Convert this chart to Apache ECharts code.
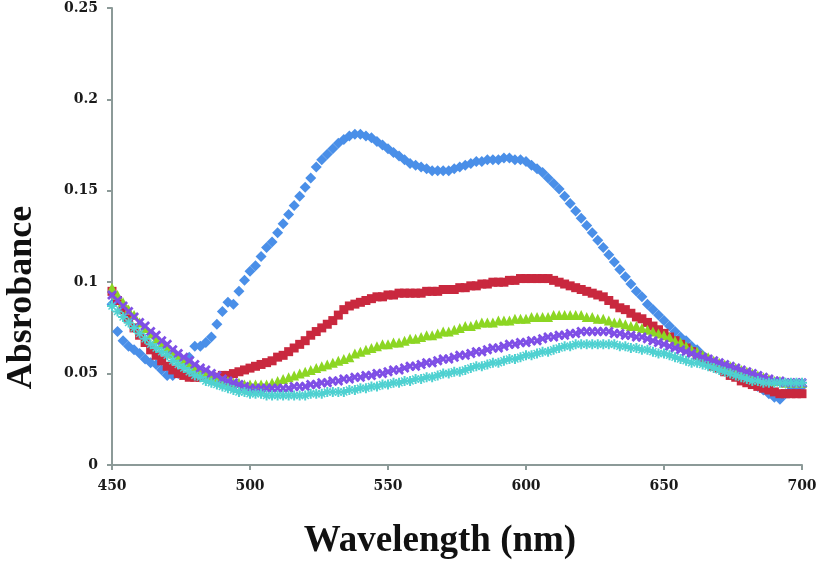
<!DOCTYPE html>
<html>
<head>
<meta charset="utf-8">
<script src="https://cdn.jsdelivr.net/npm/echarts@6/dist/echarts.min.js"></script>
<style>html,body{margin:0;padding:0;background:#fff}#c{width:817px;height:572px}</style>
</head>
<body>
<div id="c"></div>
<script>
var wavelength = [450,452,454,456,458,460,462,464,466,468,470,472,474,476,478,480,482,484,486,488,490,492,494,496,498,500,502,504,506,508,510,512,514,516,518,520,522,524,526,528,530,532,534,536,538,540,542,544,546,548,550,552,554,556,558,560,562,564,566,568,570,572,574,576,578,580,582,584,586,588,590,592,594,596,598,600,602,604,606,608,610,612,614,616,618,620,622,624,626,628,630,632,634,636,638,640,642,644,646,648,650,652,654,656,658,660,662,664,666,668,670,672,674,676,678,680,682,684,686,688,690,692,694,696,698,700];

var seriesBlue = [0.088,0.073,0.068,0.065,0.063,0.061,0.058,0.056,0.055,0.052,0.049,0.049,0.050,0.055,0.059,0.065,0.065,0.067,0.070,0.077,0.084,0.089,0.088,0.095,0.101,0.106,0.109,0.114,0.119,0.122,0.127,0.132,0.137,0.142,0.147,0.152,0.157,0.163,0.167,0.170,0.173,0.176,0.178,0.180,0.181,0.181,0.180,0.179,0.177,0.175,0.173,0.171,0.169,0.167,0.165,0.164,0.163,0.162,0.161,0.161,0.161,0.161,0.162,0.163,0.164,0.165,0.166,0.166,0.167,0.167,0.167,0.168,0.168,0.167,0.167,0.166,0.164,0.162,0.160,0.157,0.154,0.151,0.147,0.143,0.139,0.135,0.131,0.127,0.123,0.119,0.115,0.111,0.107,0.103,0.099,0.095,0.092,0.088,0.085,0.082,0.079,0.076,0.073,0.070,0.068,0.065,0.063,0.060,0.058,0.056,0.054,0.052,0.051,0.049,0.048,0.046,0.045,0.043,0.041,0.039,0.037,0.036,0.039,0.041,0.042,0.043];

var seriesRed = [0.095,0.090,0.085,0.080,0.075,0.071,0.067,0.063,0.060,0.057,0.054,0.052,0.050,0.049,0.048,0.048,0.048,0.048,0.048,0.048,0.049,0.049,0.050,0.051,0.052,0.053,0.054,0.055,0.056,0.057,0.059,0.060,0.062,0.064,0.066,0.068,0.071,0.073,0.075,0.077,0.079,0.082,0.085,0.087,0.088,0.089,0.090,0.091,0.092,0.092,0.093,0.093,0.094,0.094,0.094,0.094,0.094,0.095,0.095,0.095,0.096,0.096,0.096,0.097,0.097,0.098,0.098,0.099,0.099,0.100,0.100,0.100,0.101,0.101,0.102,0.102,0.102,0.102,0.102,0.102,0.101,0.100,0.099,0.098,0.097,0.096,0.095,0.094,0.093,0.092,0.090,0.088,0.086,0.085,0.083,0.081,0.080,0.078,0.076,0.074,0.072,0.070,0.068,0.066,0.064,0.062,0.060,0.058,0.056,0.054,0.053,0.051,0.049,0.048,0.046,0.045,0.044,0.043,0.042,0.041,0.040,0.039,0.039,0.039,0.039,0.039];

var seriesGreen = [0.097,0.093,0.089,0.085,0.082,0.078,0.075,0.072,0.069,0.066,0.064,0.061,0.059,0.057,0.055,0.053,0.051,0.050,0.048,0.047,0.046,0.046,0.045,0.045,0.044,0.044,0.044,0.044,0.044,0.045,0.046,0.047,0.048,0.049,0.050,0.051,0.052,0.053,0.054,0.055,0.056,0.057,0.058,0.059,0.061,0.062,0.063,0.064,0.065,0.066,0.066,0.067,0.067,0.068,0.069,0.069,0.070,0.071,0.071,0.072,0.073,0.073,0.074,0.075,0.076,0.076,0.077,0.078,0.078,0.078,0.079,0.079,0.079,0.080,0.080,0.080,0.081,0.081,0.081,0.081,0.082,0.082,0.082,0.082,0.082,0.082,0.081,0.081,0.080,0.080,0.079,0.078,0.078,0.077,0.076,0.076,0.075,0.074,0.073,0.072,0.071,0.070,0.068,0.067,0.065,0.063,0.062,0.060,0.059,0.057,0.056,0.055,0.054,0.053,0.052,0.051,0.050,0.049,0.048,0.047,0.046,0.046,0.045,0.045,0.045,0.045];

var seriesPurple = [0.093,0.090,0.087,0.084,0.081,0.078,0.076,0.073,0.071,0.068,0.066,0.063,0.061,0.059,0.057,0.055,0.053,0.052,0.050,0.049,0.047,0.046,0.045,0.044,0.043,0.042,0.042,0.042,0.042,0.042,0.042,0.042,0.042,0.043,0.043,0.043,0.044,0.044,0.045,0.045,0.046,0.046,0.047,0.047,0.048,0.048,0.049,0.049,0.050,0.050,0.051,0.052,0.052,0.053,0.054,0.054,0.055,0.056,0.056,0.057,0.058,0.058,0.059,0.060,0.060,0.061,0.062,0.062,0.063,0.064,0.064,0.065,0.066,0.066,0.067,0.067,0.068,0.068,0.069,0.070,0.070,0.071,0.071,0.072,0.072,0.073,0.073,0.073,0.073,0.073,0.073,0.072,0.072,0.071,0.071,0.070,0.070,0.069,0.068,0.067,0.066,0.065,0.064,0.063,0.062,0.061,0.060,0.059,0.058,0.057,0.056,0.055,0.054,0.053,0.052,0.051,0.050,0.049,0.048,0.047,0.046,0.046,0.045,0.045,0.045,0.045];

var seriesTeal = [0.087,0.084,0.081,0.078,0.075,0.072,0.069,0.066,0.064,0.062,0.060,0.057,0.055,0.053,0.051,0.049,0.048,0.046,0.045,0.044,0.043,0.042,0.041,0.040,0.040,0.039,0.039,0.039,0.038,0.038,0.038,0.038,0.038,0.038,0.038,0.038,0.039,0.039,0.039,0.040,0.040,0.040,0.040,0.041,0.041,0.042,0.042,0.043,0.043,0.044,0.044,0.045,0.045,0.046,0.046,0.047,0.047,0.048,0.048,0.049,0.050,0.050,0.051,0.051,0.052,0.053,0.054,0.054,0.055,0.056,0.056,0.057,0.058,0.058,0.059,0.060,0.060,0.061,0.062,0.062,0.063,0.064,0.065,0.065,0.066,0.066,0.066,0.066,0.066,0.066,0.066,0.066,0.065,0.065,0.064,0.064,0.063,0.063,0.062,0.061,0.061,0.060,0.059,0.058,0.057,0.056,0.056,0.055,0.054,0.053,0.052,0.051,0.050,0.049,0.048,0.047,0.046,0.046,0.045,0.045,0.045,0.045,0.045,0.045,0.045,0.045];

var xTicks = [450, 500, 550, 600, 650, 700];
var yTicks = [0, 0.05, 0.1, 0.15, 0.2, 0.25];

function pairs(ys) {
  var out = [];
  for (var i = 0; i < wavelength.length; i++) out.push([wavelength[i], ys[i]]);
  return out;
}

var axisCol = '#8c9a98';
var tickFont = {fontFamily: 'DejaVu Serif', fontWeight: 'bold', fontSize: 14, color: '#1a1a1a'};
var crossPath = 'path://M0,2 L2,0 L5,3 L8,0 L10,2 L7,5 L10,8 L8,10 L5,7 L2,10 L0,8 L3,5 Z';
var starPath = 'path://M4,0 H6 V3 L8,1 L9,2 L7,4 H10 V6 H7 L9,8 L8,9 L6,7 V10 H4 V7 L2,9 L1,8 L3,6 H0 V4 H3 L1,2 L2,1 L4,3 Z';

var chart = echarts.init(document.getElementById('c'), null, {renderer: 'canvas'});
chart.setOption({
  animation: false,
  backgroundColor: '#ffffff',
  grid: {left: 112, right: 15, top: 8, bottom: 107, containLabel: false, outerBoundsMode: 'none'},
  xAxis: {
    type: 'value', min: xTicks[0], max: xTicks[xTicks.length - 1], interval: 50,
    name: 'Wavelength (nm)', nameLocation: 'middle', nameGap: 58,
    nameTextStyle: {fontFamily: 'Liberation Serif', fontWeight: 'bold', fontSize: 37, color: '#111', padding: [0, 34, 0, 0]},
    axisLine: {show: true, lineStyle: {color: axisCol, width: 2}},
    axisTick: {show: true, inside: false, length: 5, lineStyle: {color: axisCol, width: 2}},
    axisLabel: Object.assign({margin: 14}, tickFont),
    splitLine: {show: false}
  },
  yAxis: {
    type: 'value', min: yTicks[0], max: yTicks[yTicks.length - 1], interval: 0.05,
    name: 'Absrobance', nameLocation: 'middle', nameGap: 72, nameRotate: 90,
    nameTextStyle: {fontFamily: 'Liberation Serif', fontWeight: 'bold', fontSize: 36, color: '#111', padding: [0, 122, 0, 0]},
    axisLine: {show: true, lineStyle: {color: axisCol, width: 2}},
    axisTick: {show: true, inside: false, length: 5, lineStyle: {color: axisCol, width: 2}},
    axisLabel: Object.assign({margin: 14}, tickFont),
    splitLine: {show: false}
  },
  series: [
    {type: 'scatter', data: pairs(seriesBlue), symbol: 'diamond', symbolSize: 11, itemStyle: {color: '#4a8fe8', opacity: 1}},
    {type: 'scatter', data: pairs(seriesRed), symbol: 'rect', symbolSize: 9, itemStyle: {color: '#c9283e', opacity: 1}},
    {type: 'scatter', data: pairs(seriesGreen), symbol: 'triangle', symbolSize: 10, itemStyle: {color: '#8cd623', opacity: 1}},
    {type: 'scatter', data: pairs(seriesPurple), symbol: crossPath, symbolSize: 10, itemStyle: {color: '#7f4fe6', opacity: 1}},
    {type: 'scatter', data: pairs(seriesTeal), symbol: starPath, symbolSize: 10, itemStyle: {color: '#4fd1d1', opacity: 1}}
  ]
});
</script>
</body>
</html>
